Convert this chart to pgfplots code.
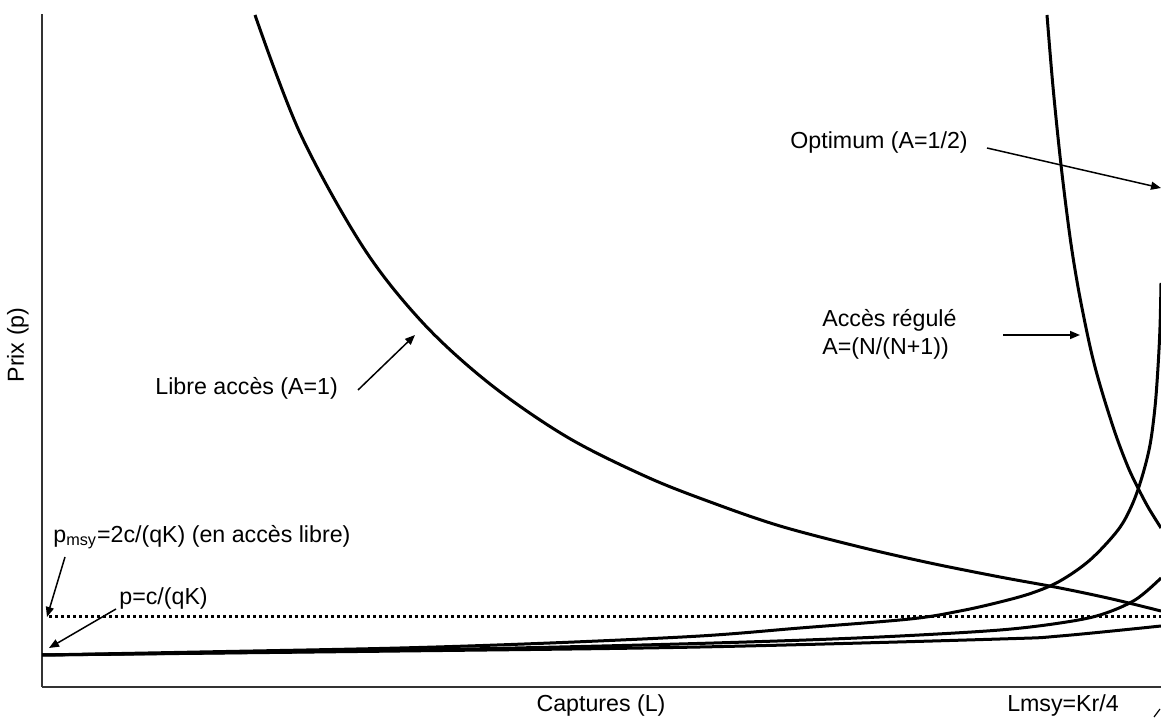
\documentclass[border=0pt]{standalone}
\usepackage{fontspec}
\setmainfont{Liberation Sans}
\usepackage{pgfplots}
\pgfplotsset{compat=1.18}
\usetikzlibrary{arrows.meta}
\begin{document}
\fontsize{11.6}{14}\selectfont
\begin{tikzpicture}[>={Triangle[length=5pt,width=4pt]}]
\path[use as bounding box] (-21pt,-17.5pt) rectangle (559.5pt,343.5pt);
\begin{axis}[
  at={(0,0)}, anchor=south west,
  width=559.5pt, height=336.5pt, scale only axis,
  xmin=0, xmax=1119, ymin=0, ymax=673,
  axis x line=bottom, axis y line=left,
  axis line style={-, black!80, line width=0.9pt},
  xtick=\empty, ytick=\empty,
  clip mode=individual,
  curve/.style={black, line width=1.5pt, no marks, smooth, tension=0.55},
]
% Libre acces (upper branch)
\addplot[curve] coordinates {(213,672) (258,554) (321,440) (381,364) (448,303) (525,250) (605,210) (671,184) (738,161) (818,140) (888,124) (958,110) (1018,99) (1070,88) (1119,76)};
% Steep decreasing branch
\addplot[curve] coordinates {(1005,672) (1011,600) (1019,522) (1028,450) (1036,400) (1045.5,352) (1053,320) (1062.5,287) (1074.5,250) (1086,220) (1095,201) (1106,180) (1119,159)};
% Increasing branches
\addplot[curve] coordinates {(0,32) (158,35) (358,39) (508,44) (658,51) (758,59) (868,68) (918,76) (958,85) (990,94) (1018,106) (1048,127) (1076,157) (1090,182) (1100,210) (1108,242) (1113,280) (1116,320) (1118,360) (1119,404)};
\addplot[curve] coordinates {(0,32) (200,34.5) (400,37.5) (600,42) (750,46.5) (858,51) (958,57) (1018,64) (1058,72) (1093,87) (1119,109)};
\addplot[curve] coordinates {(0,32) (358,36) (658,40) (958,48) (1018,51) (1119,61)};
% p_msy dotted line
\addplot[black, line width=1.5pt, dash pattern=on 1.5pt off 1.5pt, no marks] coordinates {(7,70) (1119,70)};

% annotations
\node[anchor=west, inner sep=0pt] at (axis cs:748,544) {Optimum (A=1/2)};
\draw[->, line width=0.75pt] (axis cs:945,539) -- (axis cs:1119,499);
\node[anchor=west, align=left, inner sep=0pt] at (axis cs:780,353) {Accès régulé\\A=(N/(N+1))};
\draw[->, line width=0.75pt] (axis cs:961,352) -- (axis cs:1038,352);
\node[anchor=west, inner sep=0pt] at (axis cs:113,299) {Libre accès (A=1)};
\draw[->, line width=0.75pt] (axis cs:316,297) -- (axis cs:373,352);
\node[anchor=west, inner sep=0pt] at (axis cs:11,150) {p\textsubscript{msy}=2c/(qK) (en accès libre)};
\draw[->, line width=0.75pt] (axis cs:23,130) -- (axis cs:5,70);
\node[anchor=west, inner sep=0pt] at (axis cs:77,88) {p=c/(qK)};
\draw[->, line width=0.75pt] (axis cs:74,78) -- (axis cs:7,39);
\node[inner sep=0pt] at (axis cs:559,-19) {Captures (L)};
\node[inner sep=0pt] at (axis cs:1021,-19) {Lmsy=Kr/4};
\node[inner sep=0pt, rotate=90] at (axis cs:-24,342) {Prix (p)};
\draw[line width=0.6pt] (axis cs:1112,-30) -- (axis cs:1118,-22);
\end{axis}
\end{tikzpicture}
\end{document}
